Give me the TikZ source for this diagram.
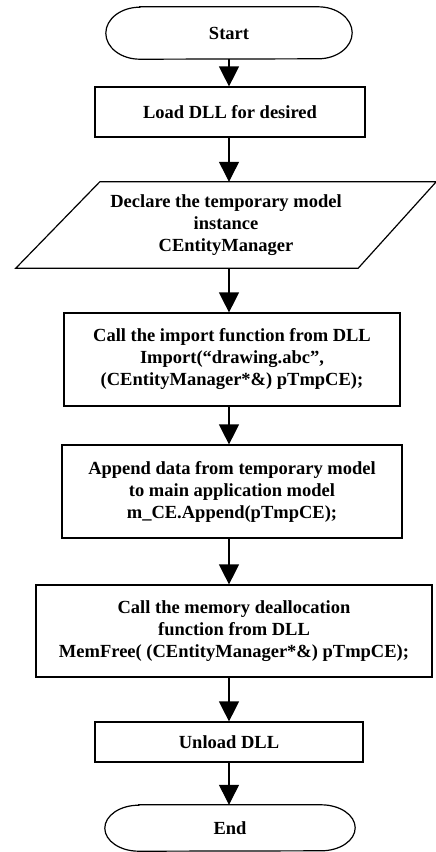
\documentclass[tikz,border=0pt]{standalone}
\usepackage{fontspec}
\setmainfont{Liberation Serif}
\usetikzlibrary{arrows.meta}
\begin{document}
\begin{tikzpicture}[x=1pt,y=-1pt,
  every node/.style={font=\fontsize{18.5}{22}\selectfont\bfseries, align=center, inner sep=0pt},
  procbox/.style={draw, line width=1.2pt, rectangle},
  bare/.style={rectangle},
  flow/.style={line width=1.2pt, -{Triangle[length=20pt,width=20pt]}},
  outline/.style={line width=1.2pt}]
\useasboundingbox (0,0) rectangle (436,852);

% vertical line along which the connectors run
\coordinate (spine) at (229,0);

% terminals, the parallelogram and the process boxes
\node[bare, minimum width=246pt, minimum height=52pt] (start) at (229,33) {Start};
\node[procbox, minimum width=270pt, minimum height=50pt] (load) at (230,112) {Load DLL for desired};
\node[bare, minimum width=420pt, minimum height=86pt] (decl) at (226,225)
  {Declare the temporary model\\instance\\CEntityManager};
\node[procbox, minimum width=336pt, minimum height=93pt] (import) at (232,359.5)
  {Call the import function from DLL\\Import(“drawing.abc”,\\(CEntityManager*\&) pTmpCE);};
\node[procbox, minimum width=340pt, minimum height=93pt] (append) at (232,491.5)
  {Append data from temporary model\\to main application model\\m\_CE.Append(pTmpCE);};
\node[procbox, minimum width=396pt, minimum height=92pt] (free) at (234,631)
  {Call the memory deallocation\\function from DLL\\MemFree( (CEntityManager*\&) pTmpCE);};
\node[procbox, minimum width=268pt, minimum height=40pt] (unload) at (229,742) {Unload DLL};
\node[bare, minimum width=250pt, minimum height=46pt] (stop) at (230,828) {End};

% terminal outlines with elliptical ends
\draw[outline] ([xshift=34pt]start.north west) -- ([xshift=-34pt]start.north east)
  arc[start angle=90, end angle=-90, x radius=34pt, y radius=26pt]
  -- ([xshift=34pt]start.south west)
  arc[start angle=270, end angle=90, x radius=34pt, y radius=26pt] -- cycle;
\draw[outline] ([xshift=34pt]stop.north west) -- ([xshift=-34pt]stop.north east)
  arc[start angle=90, end angle=-90, x radius=34pt, y radius=23pt]
  -- ([xshift=34pt]stop.south west)
  arc[start angle=270, end angle=90, x radius=34pt, y radius=23pt] -- cycle;

% data parallelogram
\draw[outline] ([xshift=84pt]decl.north west) -- (decl.north east)
  -- ([xshift=-78pt]decl.south east) -- (decl.south west) -- cycle;

% connectors
\draw[flow] (start.south -| spine) -- (load.north -| spine);
\draw[flow] (load.south -| spine) -- (decl.north -| spine);
\draw[flow] (decl.south -| spine) -- (import.north -| spine);
\draw[flow] (import.south -| spine) -- (append.north -| spine);
\draw[flow] (append.south -| spine) -- (free.north -| spine);
\draw[flow] (free.south -| spine) -- (unload.north -| spine);
\draw[flow] (unload.south -| spine) -- (stop.north -| spine);
\end{tikzpicture}
\end{document}
